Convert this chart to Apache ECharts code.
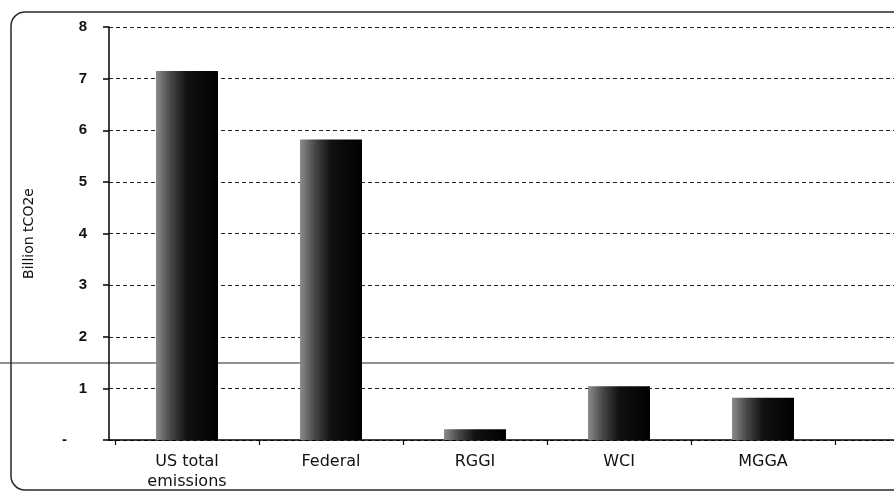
<!DOCTYPE html>
<html>
<head>
<meta charset="utf-8">
<script src="https://cdn.jsdelivr.net/npm/echarts@6/dist/echarts.min.js"></script>
<style>
  html, body { margin: 0; padding: 0; background: #fff; }
  #chart { width: 894px; height: 497px; }
</style>
</head>
<body>
<div id="chart"></div>
<script>
// Emission coverage by programme, billion tonnes CO2-equivalent
const categories = ['US total\nemissions', 'Federal', 'RGGI', 'WCI', 'MGGA'];
const emissions = [7.15, 5.82, 0.21, 1.04, 0.82];
const yTicks = [0, 1, 2, 3, 4, 5, 6, 7, 8];

const yMin = yTicks[0];
const yMax = yTicks[yTicks.length - 1];

const chart = echarts.init(document.getElementById('chart'), null, { renderer: 'canvas' });

const barFill = new echarts.graphic.LinearGradient(0, 0, 1, 0, [
  { offset: 0, color: '#8c8c8c' },
  { offset: 0.25, color: '#444' },
  { offset: 0.5, color: '#111' },
  { offset: 1, color: '#000' }
]);

chart.setOption({
  backgroundColor: '#fff',
  animation: false,
  textStyle: { fontFamily: 'DejaVu Sans, sans-serif' },
  graphic: [
    {
      type: 'rect', z: -10, silent: true,
      shape: { x: 11, y: 12, width: 920, height: 478, r: 14 },
      style: { fill: 'none', stroke: '#2a2a2a', lineWidth: 1.5 }
    },
    {
      type: 'line', z: -5, silent: true,
      shape: { x1: 0, y1: 363, x2: 894, y2: 363 },
      style: { stroke: '#222', lineWidth: 1 }
    }
  ],
  grid: [
    // bars, category labels and value axis
    { left: 115, top: 27, bottom: 57, width: 720 },
    // dashed value grid and base line running to the right edge
    { left: 109, top: 27, bottom: 57, right: 0 }
  ],
  xAxis: [
    {
      gridIndex: 0,
      type: 'category',
      data: categories,
      axisLine: { show: false },
      axisTick: { show: true, length: 5, lineStyle: { color: '#000', width: 1.2 } },
      axisLabel: { color: '#111', fontSize: 16, lineHeight: 20, margin: 12, interval: 0 },
      splitLine: { show: false }
    },
    {
      gridIndex: 1,
      type: 'value',
      min: 0, max: 1,
      axisLine: { show: true, onZero: false, lineStyle: { color: '#000', width: 1.5 } },
      axisTick: { show: false },
      axisLabel: { show: false },
      splitLine: { show: false }
    }
  ],
  yAxis: [
    {
      gridIndex: 0,
      type: 'value',
      min: yMin, max: yMax, interval: 1,
      offset: 6,
      name: 'Billion tCO2e',
      nameLocation: 'middle',
      nameRotate: 90,
      nameGap: 73,
      nameTextStyle: { color: '#111', fontSize: 14 },
      axisLine: { show: true, lineStyle: { color: '#000', width: 1.5 } },
      axisTick: { show: true, length: 6, lineStyle: { color: '#000', width: 1.5 } },
      axisLabel: {
        color: '#111', fontSize: 15, fontWeight: 'bold', margin: 22,
        fontFamily: 'Liberation Sans, Arial, sans-serif',
        formatter: v => v === 0 ? '{z|-}' : String(v),
        rich: { z: { fontSize: 15, fontWeight: 'bold', color: '#111', padding: [0, 20, 0, 0] } }
      },
      splitLine: { show: false }
    },
    {
      gridIndex: 1,
      type: 'value',
      min: yMin, max: yMax, interval: 1,
      axisLine: { show: false },
      axisTick: { show: false },
      axisLabel: { show: false },
      splitLine: { show: true, lineStyle: { color: '#222', type: [4, 3], width: 1 } }
    }
  ],
  series: [{
    type: 'bar',
    xAxisIndex: 0,
    yAxisIndex: 0,
    data: emissions,
    barWidth: 62,
    itemStyle: { color: barFill },
    z: 3
  }]
});
</script>
</body>
</html>
